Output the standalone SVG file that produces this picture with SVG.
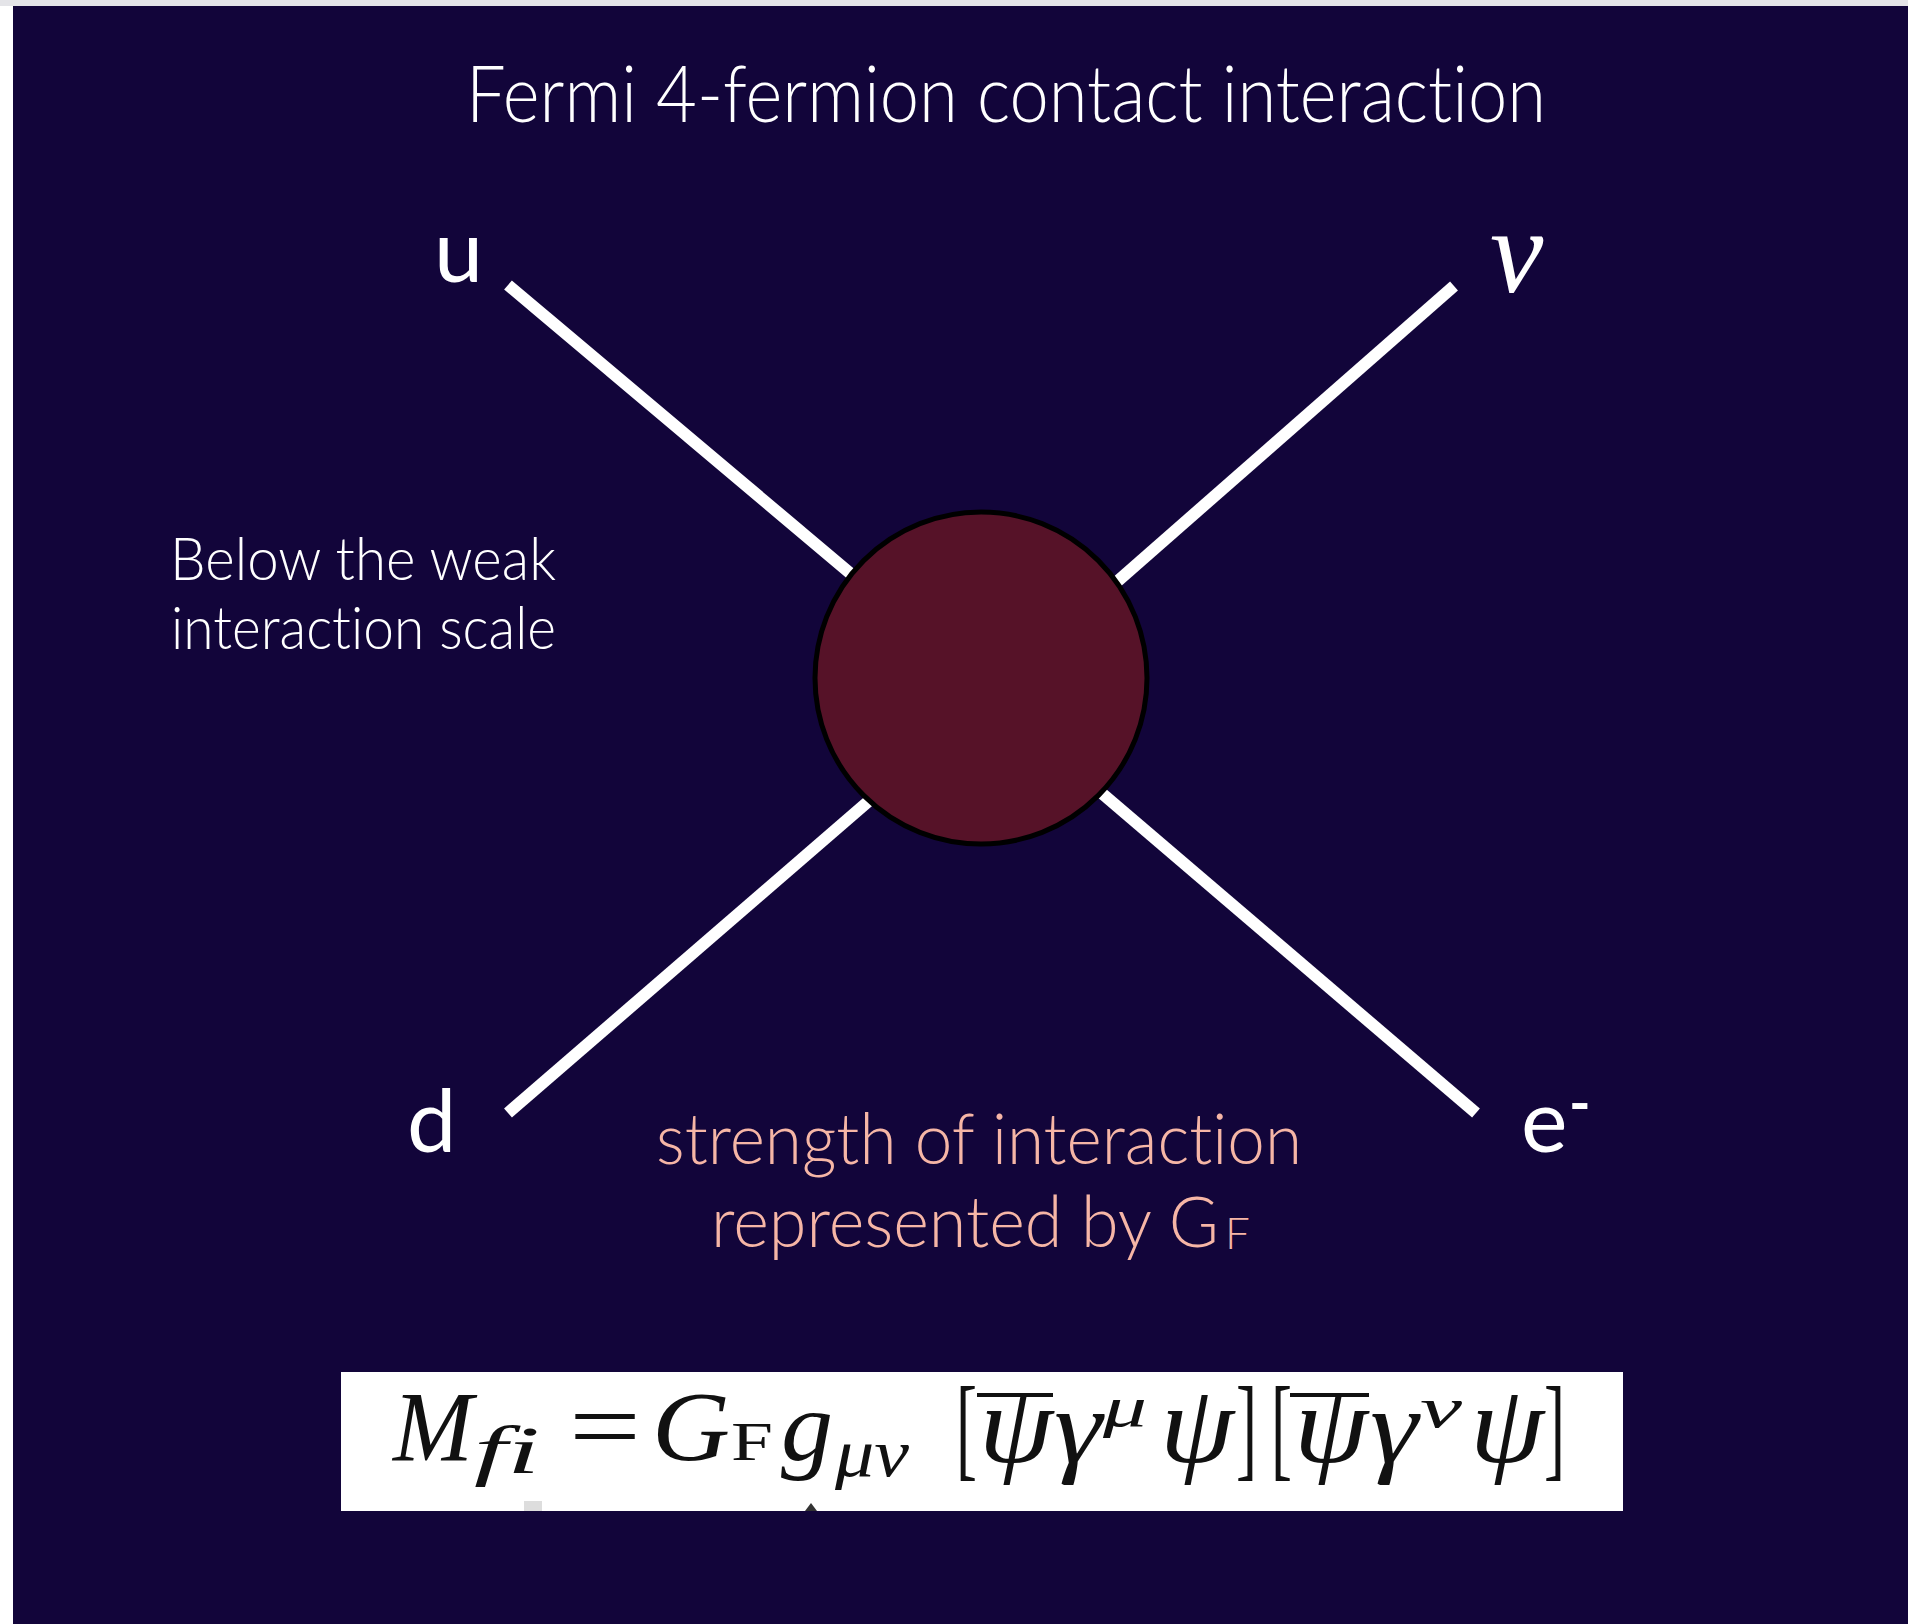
<svg xmlns="http://www.w3.org/2000/svg" width="1908" height="1624" viewBox="0 0 1908 1624">
<style>
.sans{font-family:Lato,"Open Sans","Liberation Sans",sans-serif;font-variant-ligatures:none}
.light{font-weight:300}
.white{fill:#ffffff}
.pink{fill:#f6b6a6}
.lbl{font-size:88px;font-weight:400;fill:#ffffff}
.math{font-family:"Liberation Serif","DejaVu Serif",serif;fill:#111111;font-variant-ligatures:none}
.it{font-style:italic}
.rm{font-style:normal}
.edge{stroke:#ffffff;stroke-width:12;stroke-linecap:butt;fill:none}
.bar{stroke:#111111;stroke-width:4}
</style>
<rect x="0" y="0" width="1908" height="1624" fill="#ffffff"/>
<rect x="0" y="0" width="1908" height="6" fill="#e4e4e8"/>
<rect x="13" y="6" width="1895" height="1618" fill="#12053a"/>

<g id="title">
<text class="sans light white" x="466" y="122" font-size="78" textLength="1080" lengthAdjust="spacingAndGlyphs">Fermi 4-fermion contact interaction</text>
</g>

<g id="connectors">
<line class="edge" x1="508" y1="285" x2="908" y2="622"/>
<line class="edge" x1="1454" y1="286" x2="1054" y2="637"/>
<line class="edge" x1="508" y1="1113" x2="900" y2="774"/>
<line class="edge" x1="1476" y1="1113" x2="1084" y2="778"/>
</g>

<g id="vertex">
<circle cx="981" cy="678" r="166" fill="#561228" stroke="#000000" stroke-width="5"/>
</g>

<g id="u">
<text class="sans lbl" x="434" y="282">u</text>
</g>
<g id="nu">
<text x="1490" y="292" font-family="Liberation Serif,serif" font-style="italic" font-size="120" fill="#ffffff">ν</text>
</g>
<g id="d">
<text class="sans lbl" x="407" y="1152">d</text>
</g>
<g id="e">
<text class="sans lbl" x="1521" y="1152">e<tspan x="1569" y="1123" font-size="58" font-weight="700">-</tspan></text>
</g>

<g id="scale-note">
<text class="sans light white" x="170" y="580" font-size="60" textLength="386" lengthAdjust="spacingAndGlyphs">Below the weak</text>
<text class="sans light white" x="171" y="649" font-size="60" textLength="385" lengthAdjust="spacingAndGlyphs">interaction scale</text>
</g>

<g id="strength-note">
<text class="sans light pink" x="656" y="1164" font-size="70" textLength="646" lengthAdjust="spacingAndGlyphs">strength of interaction</text>
<text class="sans light pink" x="711" y="1247" font-size="70"><tspan textLength="508" lengthAdjust="spacingAndGlyphs">represented by G</tspan><tspan x="1225" y="1249" font-size="44">F</tspan></text>
</g>

<g id="formula">
<rect x="341" y="1372" width="1282" height="139" fill="#ffffff"/>
<rect x="524" y="1501" width="18" height="10" fill="#dddddd"/>
<path d="M805 1511 L811 1503 L817 1511 Z" fill="#333333"/>
<line class="bar" x1="977" y1="1395" x2="1053" y2="1395"/>
<line class="bar" x1="1290" y1="1395" x2="1369" y2="1395"/>
<text class="math it" font-size="100"><tspan x="393" y="1460" textLength="80" lengthAdjust="spacingAndGlyphs">M</tspan><tspan x="474" y="1473" font-size="68" textLength="66" lengthAdjust="spacingAndGlyphs">fi</tspan><tspan class="rm" x="569" y="1460" textLength="72" lengthAdjust="spacingAndGlyphs">=</tspan><tspan x="652" y="1460" textLength="78" lengthAdjust="spacingAndGlyphs">G</tspan><tspan class="rm" x="731" y="1460" font-size="54" textLength="42" lengthAdjust="spacingAndGlyphs">F</tspan><tspan x="781" y="1460" textLength="52" lengthAdjust="spacingAndGlyphs">g</tspan><tspan x="835" y="1476" font-size="68" textLength="74" lengthAdjust="spacingAndGlyphs">μν</tspan><tspan class="rm" x="956" y="1466" font-size="115" textLength="21" lengthAdjust="spacingAndGlyphs">[</tspan><tspan x="979" y="1462" font-size="110" textLength="74" lengthAdjust="spacingAndGlyphs">ψ</tspan><tspan x="1054" y="1462" font-size="106" textLength="48" lengthAdjust="spacingAndGlyphs">γ</tspan><tspan x="1103" y="1426" font-size="58" textLength="44" lengthAdjust="spacingAndGlyphs">μ</tspan><tspan x="1160" y="1462" font-size="110" textLength="74" lengthAdjust="spacingAndGlyphs">ψ</tspan><tspan class="rm" x="1236" y="1466" font-size="115" textLength="21" lengthAdjust="spacingAndGlyphs">]</tspan><tspan class="rm" x="1271" y="1466" font-size="115" textLength="21" lengthAdjust="spacingAndGlyphs">[</tspan><tspan x="1294" y="1462" font-size="110" textLength="74" lengthAdjust="spacingAndGlyphs">ψ</tspan><tspan x="1370" y="1462" font-size="106" textLength="48" lengthAdjust="spacingAndGlyphs">γ</tspan><tspan x="1420" y="1427" font-size="58" textLength="42" lengthAdjust="spacingAndGlyphs">ν</tspan><tspan x="1470" y="1462" font-size="110" textLength="74" lengthAdjust="spacingAndGlyphs">ψ</tspan><tspan class="rm" x="1544" y="1466" font-size="115" textLength="21" lengthAdjust="spacingAndGlyphs">]</tspan></text>
</g>
</svg>
